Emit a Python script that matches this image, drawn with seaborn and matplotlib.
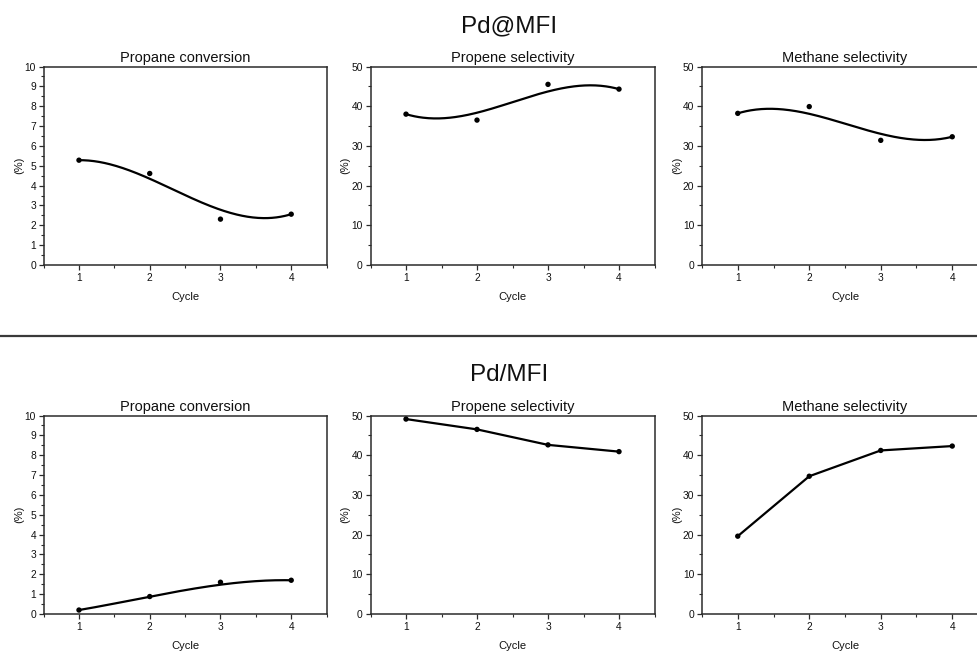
import numpy as np
import pandas as pd
import matplotlib
matplotlib.use("Agg")
import matplotlib.pyplot as plt
from matplotlib.lines import Line2D
from matplotlib.ticker import MultipleLocator, AutoMinorLocator
import seaborn as sns

# ---- data -------------------------------------------------------------
cycles = [1, 2, 3, 4]

panel_titles = ["Propane conversion", "Propene selectivity", "Methane selectivity"]

# Pd@MFI (encapsulated)
pd_at_propane_conversion = [5.28, 4.61, 2.31, 2.56]
pd_at_propene_selectivity = [38.0, 36.5, 45.5, 44.3]
pd_at_methane_selectivity = [38.2, 39.9, 31.4, 32.3]

# Pd/MFI (supported)
pd_on_propane_conversion = [0.20, 0.88, 1.60, 1.70]
pd_on_propene_selectivity = [49.1, 46.5, 42.6, 40.9]
pd_on_methane_selectivity = [19.6, 34.7, 41.2, 42.3]

y_limits = [10, 50, 50]
y_major = [1, 10, 10]

# ---- style ------------------------------------------------------------
sns.set_theme(style="ticks")
plt.rcParams["font.family"] = ["Liberation Sans", "DejaVu Sans"]
plt.rcParams["axes.edgecolor"] = "#2b2b2b"
plt.rcParams["axes.linewidth"] = 1.1
plt.rcParams["xtick.color"] = "#2b2b2b"
plt.rcParams["ytick.color"] = "#2b2b2b"
plt.rcParams["xtick.labelcolor"] = "#111111"
plt.rcParams["ytick.labelcolor"] = "#111111"
plt.rcParams["text.color"] = "#111111"
plt.rcParams["axes.labelcolor"] = "#111111"


def smooth_connector(x, y, weight=0.68, n=200):
    """Smoothed connecting line: blend of a cubic Bezier that uses the
    points as control points and the cubic that interpolates them."""
    x = np.asarray(x, float)
    y = np.asarray(y, float)
    t = np.linspace(0, 1, n)
    b = ((1 - t) ** 3 * y[0] + 3 * (1 - t) ** 2 * t * y[1]
         + 3 * (1 - t) * t ** 2 * y[2] + t ** 3 * y[3])
    xs = x[0] + (x[-1] - x[0]) * t
    interp = np.polyval(np.polyfit(x, y, 3), xs)
    return xs, weight * b + (1 - weight) * interp


W, H = 977, 651
fig = plt.figure(figsize=(W / 100, H / 100), dpi=100)

col_left = [43.6, 370.5, 702.0]
col_width = [283.0, 284.0, 286.0]
row_top = [66.5, 415.5]
row_height = 198.5

rows = [
    [pd_at_propane_conversion, pd_at_propene_selectivity, pd_at_methane_selectivity],
    [pd_on_propane_conversion, pd_on_propene_selectivity, pd_on_methane_selectivity],
]
smooth_flags = [
    [True, True, True],
    [True, False, False],
]

for r, series_row in enumerate(rows):
    for c, values in enumerate(series_row):
        ax = fig.add_axes([col_left[c] / W,
                           1 - (row_top[r] + row_height) / H,
                           col_width[c] / W,
                           row_height / H])
        df = pd.DataFrame({"Cycle": cycles, "value": values})
        if smooth_flags[r][c]:
            xs, ys = smooth_connector(df["Cycle"], df["value"])
            sns.lineplot(x=xs, y=ys, ax=ax, color="black", lw=1.6,
                         sort=False, estimator=None)
        else:
            sns.lineplot(data=df, x="Cycle", y="value", ax=ax, color="black",
                         lw=1.6, sort=False, estimator=None)
        sns.scatterplot(data=df, x="Cycle", y="value", ax=ax, color="black",
                        s=15, edgecolor="none", zorder=5)

        ax.set_xlim(0.5, 4.5)
        ax.set_ylim(0, y_limits[c])
        ax.xaxis.set_major_locator(MultipleLocator(1))
        ax.xaxis.set_minor_locator(AutoMinorLocator(2))
        ax.yaxis.set_major_locator(MultipleLocator(y_major[c]))
        ax.yaxis.set_minor_locator(AutoMinorLocator(2))
        ax.tick_params(which="major", length=3.5, width=0.9, labelsize=7.4, pad=2)
        ax.tick_params(which="minor", length=2, width=0.8)
        ax.set_xticks(cycles)
        ax.set_xticklabels([str(v) for v in cycles])

        ax.set_title(panel_titles[c], fontsize=10.5, pad=3)
        ax.set_ylabel("(%)", fontsize=8, labelpad=0.5)
        ax.set_xlabel("Cycle", fontsize=8, labelpad=6.5)
        for side in ["top", "right", "left", "bottom"]:
            ax.spines[side].set_visible(True)

fig.text(509 / W, 1 - 26 / H, "Pd@MFI", ha="center", va="center", fontsize=17.5)
fig.text(509 / W, 1 - 375 / H, "Pd/MFI", ha="center", va="center", fontsize=17.5)

fig.add_artist(Line2D([0, 1], [1 - 336 / H] * 2, transform=fig.transFigure,
                      color="#3a3a3a", lw=1.6))

fig.savefig("out.png", dpi=100, facecolor="white")
